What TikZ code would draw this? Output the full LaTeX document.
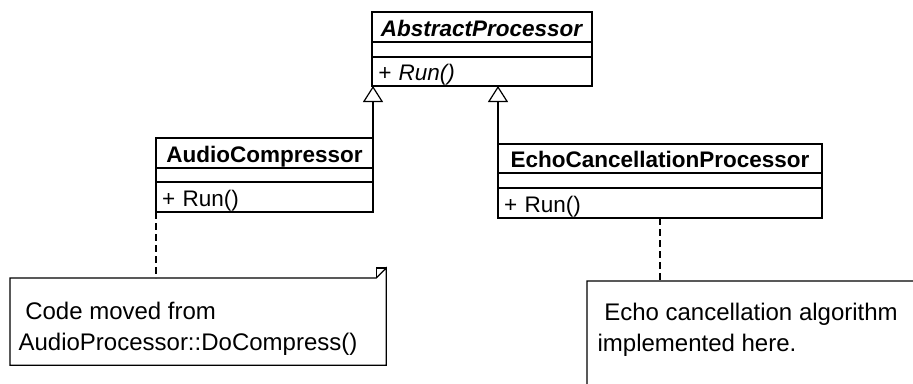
\documentclass[tikz,border=0pt]{standalone}
\usepackage{fontspec}
\setmainfont{Liberation Sans}
\usetikzlibrary{arrows.meta}

\begin{document}
\begin{tikzpicture}[x=1pt,y=-1pt,
  line width=1.2pt,
  cell/.style={draw, rectangle, anchor=north west, inner sep=0pt, outer sep=0pt},
  clsfont/.style={font=\fontsize{22.5}{27}\selectfont, text height=19.5pt, text depth=1.5pt},
  namecell/.style={cell, clsfont, minimum height=30pt},
  attrcell/.style={cell, minimum height=15pt},
  opcell/.style={cell, clsfont, minimum height=30pt, inner xsep=6pt, align=left},
  inherit/.style={-{Triangle[open, length=16pt, width=20pt]}},
  notelink/.style={dash pattern=on 7pt off 4pt},
  notefont/.style={font=\fontsize{24}{31}\selectfont, align=left, inner sep=0pt, anchor=north west},
  notebox/.style={rectangle, inner sep=0pt, anchor=north west}
]
\useasboundingbox (0,0) rectangle (913,383);
\clip (0,0) rectangle (913,383);

% AbstractProcessor
\node[namecell, minimum width=220pt] (ap) at (372,12) {\textbf{\textit{AbstractProcessor}}};
\node[attrcell, minimum width=220pt] (ap-a) at (ap.south west) {};
\node[opcell, minimum width=220pt, text width=208pt, minimum height=29pt] (ap-o) at (ap-a.south west) {\textit{+ Run()}};

% AudioCompressor
\node[namecell, minimum width=217pt] (ac) at (156,138) {\textbf{AudioCompressor}};
\node[attrcell, minimum width=217pt, minimum height=14pt] (ac-a) at (ac.south west) {};
\node[opcell, minimum width=217pt, text width=205pt] (ac-o) at (ac-a.south west) {+ Run()};

% EchoCancellationProcessor
\node[namecell, minimum width=324pt, minimum height=29pt] (ec) at (498,144) {\textbf{EchoCancellationProcessor}};
\node[attrcell, minimum width=324pt] (ec-a) at (ec.south west) {};
\node[opcell, minimum width=324pt, text width=312pt] (ec-o) at (ec-a.south west) {+ Run()};

% generalisation arrows
\draw[inherit] (ac.north east) -- (ac.north east |- ap-o.south);
\draw[inherit] (ec.north west) -- (ec.north west |- ap-o.south);

% left note
\node[notebox, minimum width=375pt, minimum height=86pt] (n1) at (10,278) {};
\draw (n1.north west) -- ([xshift=-10pt]n1.north east)
      -- ([yshift=10pt]n1.north east) -- (n1.south east)
      -- (n1.south west) -- cycle;
\draw (n1.north east) ++(-10pt,0) |- ([yshift=10pt]n1.north east);
\node[notefont] (t1) at (18,302) {\ Code moved from\\AudioProcessor::DoCompress()};

% right note (runs past the frame)
\node[notebox, minimum width=400pt, minimum height=150pt] (n2) at (587,281) {};
\draw (n2.north west) -- ([xshift=-10pt]n2.north east)
      -- ([yshift=10pt]n2.north east) -- (n2.south east)
      -- (n2.south west) -- cycle;
\node[notefont] (t2) at (597,303) {\ Echo cancellation algorithm\\implemented here.};

% note links
\draw[notelink] (ac-o.south west) -- (ac-o.south west |- n1.north);
\draw[notelink] (ec-o.south) -- (ec-o.south |- n2.north);
\end{tikzpicture}
\end{document}
